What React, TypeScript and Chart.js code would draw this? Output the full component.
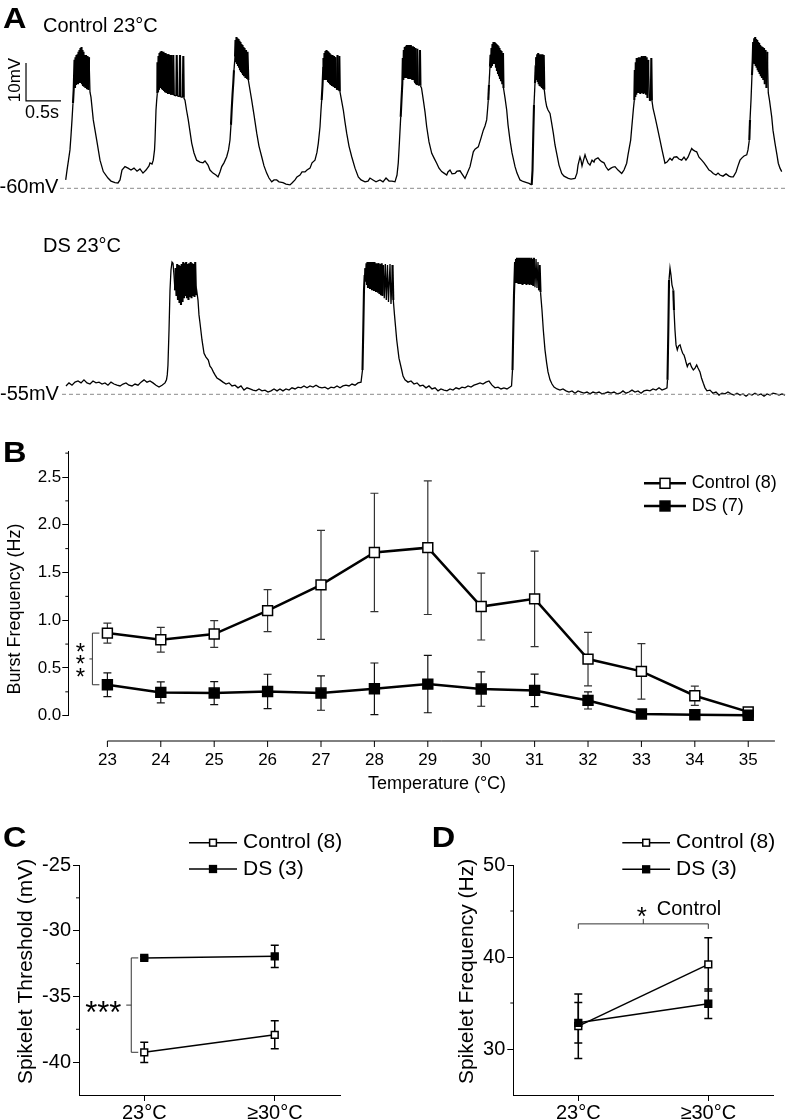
import React, { useEffect, useRef } from "react";
import { Chart, registerables } from "chart.js";

Chart.register(...registerables);

const FONT = '"Liberation Sans", Arial, Helvetica, sans-serif';
Chart.defaults.font.family = FONT;
Chart.defaults.color = "#000";

// ---------------- Panel A: membrane potential traces (time s, voltage mV) ----------------
const controlRest = -60;
const dsRest = -55;
const controlBaselineSpan = [-0.071, 10.286];
const dsBaselineSpan = [-0.043, 10.286];
const scaleBarCorner = [-0.557, -37.0]; // [s, mV]
const scaleBarMv = 10;
const scaleBarS = 0.5;

const controlTrace = [
  [0.010,-57.8],[0.029,-55.2],[0.050,-52.6],[0.071,-49.9],[0.086,-46.0],[0.100,-42.0],[0.114,-37.6],[0.124,-34.1],
  [0.136,-26.2],[0.143,-33.6],[0.150,-25.5],[0.157,-32.8],[0.164,-24.9],[0.171,-32.6],[0.179,-24.7],[0.186,-32.6],[0.193,-24.1],[0.200,-32.3],[0.207,-23.6],[0.214,-32.3],[0.221,-23.1],[0.229,-32.0],[0.236,-22.8],[0.243,-32.6],[0.250,-23.6],[0.257,-33.1],[0.264,-24.1],[0.271,-33.3],[0.279,-24.9],[0.293,-33.6],[0.300,-24.9],[0.314,-33.9],[0.321,-25.2],[0.336,-34.1],[0.343,-25.5],
  [0.357,-34.7],[0.371,-36.0],[0.404,-42.0],[0.453,-47.3],[0.500,-52.6],[0.547,-55.6],[0.614,-57.3],[0.657,-58.1],[0.714,-58.5],[0.757,-58.6],[0.786,-57.8],[0.814,-55.2],[0.857,-54.3],[0.900,-54.7],[0.943,-55.2],[0.986,-54.7],[1.029,-55.5],[1.071,-54.9],[1.114,-56.0],[1.157,-55.2],[1.200,-54.1],[1.214,-53.3],[1.243,-53.6],[1.261,-52.6],[1.279,-49.9],[1.286,-47.3],[1.300,-39.4],[1.310,-36.8],[1.319,-35.0],
  [1.321,-26.8],[1.329,-34.7],[1.336,-25.2],[1.343,-34.1],[1.350,-24.4],[1.357,-33.6],[1.364,-24.1],[1.371,-33.6],[1.379,-23.9],[1.386,-33.9],[1.393,-24.1],[1.400,-34.1],[1.407,-24.1],[1.414,-34.4],[1.421,-24.4],[1.429,-34.7],[1.436,-24.4],[1.450,-34.9],[1.457,-24.7],[1.471,-35.2],[1.479,-24.7],[1.493,-35.2],[1.500,-24.9],[1.514,-35.4],[1.521,-24.9],[1.536,-35.4],[1.547,-24.9],[1.555,-35.5],[1.590,-35.7],[1.596,-24.9],[1.603,-35.7],[1.636,-35.9],[1.643,-24.9],[1.650,-36.0],[1.683,-36.0],[1.690,-25.2],[1.697,-36.2],
  [1.714,-36.8],[1.736,-39.4],[1.761,-42.0],[1.810,-48.1],[1.843,-50.7],[1.881,-52.6],[1.929,-53.1],[1.971,-53.3],[2.000,-52.8],[2.043,-53.9],[2.071,-55.2],[2.114,-56.0],[2.157,-56.5],[2.186,-57.0],[2.214,-55.7],[2.239,-54.3],[2.271,-53.3],[2.310,-51.7],[2.336,-49.9],[2.357,-47.3],[2.371,-43.3],[2.381,-39.4],[2.393,-35.4],[2.404,-32.3],[2.414,-28.9],[2.429,-25.4],
  [2.436,-21.0],[2.443,-26.8],[2.450,-20.2],[2.457,-27.3],[2.464,-20.5],[2.471,-27.8],[2.479,-20.7],[2.486,-28.3],[2.493,-21.2],[2.500,-28.9],[2.507,-21.5],[2.514,-29.4],[2.521,-22.0],[2.529,-29.7],[2.536,-22.3],[2.543,-30.2],[2.550,-22.8],[2.557,-30.5],[2.564,-23.1],[2.579,-31.0],[2.586,-23.6],[2.600,-31.2],[2.607,-24.1],[2.619,-31.5],
  [2.667,-36.8],[2.700,-40.7],[2.739,-45.5],[2.771,-48.9],[2.810,-51.7],[2.843,-54.1],[2.881,-56.0],[2.914,-57.3],[2.953,-58.3],[2.986,-57.8],[3.024,-57.8],[3.057,-58.3],[3.114,-58.5],[3.157,-58.9],[3.214,-59.1],[3.243,-58.6],[3.286,-57.8],[3.314,-57.0],[3.357,-56.5],[3.386,-55.7],[3.429,-55.7],[3.457,-55.2],[3.500,-54.7],[3.529,-53.3],[3.571,-52.6],[3.600,-50.5],[3.619,-48.1],[3.643,-43.8],[3.657,-39.4],[3.667,-36.8],[3.679,-32.8],[3.690,-28.0],
  [3.693,-25.7],[3.700,-31.5],[3.707,-24.4],[3.714,-31.2],[3.721,-23.9],[3.729,-31.5],[3.736,-23.6],[3.743,-31.5],[3.750,-23.9],[3.757,-32.0],[3.764,-24.1],[3.771,-32.3],[3.779,-24.4],[3.786,-32.6],[3.793,-24.7],[3.800,-32.8],[3.807,-24.9],[3.814,-33.1],[3.821,-24.9],[3.836,-33.3],[3.843,-25.2],[3.857,-33.6],[3.864,-25.5],[3.879,-33.9],[3.886,-34.0],[3.893,-24.9],[3.900,-34.1],[3.912,-34.2],[3.919,-25.2],[3.926,-34.5],[3.929,-34.7],
  [3.950,-36.8],[3.976,-39.4],[4.000,-42.6],[4.024,-45.5],[4.057,-48.9],[4.096,-51.7],[4.143,-54.7],[4.190,-57.0],[4.229,-57.8],[4.286,-58.3],[4.329,-58.1],[4.357,-57.3],[4.400,-57.8],[4.443,-58.3],[4.500,-57.8],[4.543,-58.3],[4.586,-57.3],[4.629,-58.1],[4.671,-58.1],[4.714,-58.3],[4.743,-56.5],[4.761,-53.3],[4.779,-47.3],[4.796,-41.2],[4.807,-36.8],[4.819,-32.4],
  [4.826,-25.7],[4.833,-31.5],[4.840,-23.6],[4.847,-31.0],[4.854,-22.8],[4.861,-31.0],[4.869,-22.6],[4.876,-31.0],[4.883,-22.3],[4.890,-31.0],[4.897,-22.3],[4.904,-31.2],[4.911,-22.3],[4.919,-31.2],[4.926,-22.6],[4.933,-31.0],[4.940,-22.3],[4.947,-31.2],[4.954,-22.8],[4.961,-31.5],[4.969,-22.6],[4.979,-31.5],[4.986,-22.8],[4.997,-32.0],[5.003,-32.3],[5.007,-23.1],[5.014,-32.6],[5.028,-32.7],[5.033,-23.3],[5.040,-32.8],[5.064,-32.9],[5.071,-23.6],[5.078,-33.0],
  [5.093,-33.6],[5.119,-36.8],[5.143,-39.9],[5.167,-43.8],[5.200,-47.8],[5.239,-50.8],[5.271,-52.0],[5.310,-53.4],[5.343,-54.7],[5.381,-55.6],[5.414,-56.0],[5.453,-56.5],[5.471,-55.7],[5.500,-55.2],[5.529,-56.2],[5.571,-56.1],[5.600,-55.5],[5.643,-55.4],[5.671,-56.2],[5.714,-57.4],[5.743,-56.2],[5.786,-54.3],[5.814,-52.0],[5.833,-50.4],[5.857,-49.7],[5.904,-49.1],[5.943,-46.8],[5.976,-44.7],[6.000,-43.6],[6.024,-42.0],[6.036,-39.4],[6.047,-36.8],[6.057,-32.8],[6.071,-28.0],
  [6.079,-24.9],[6.086,-28.3],[6.093,-23.1],[6.100,-27.8],[6.107,-22.0],[6.114,-27.3],[6.121,-21.5],[6.129,-26.8],[6.136,-21.5],[6.143,-27.3],[6.150,-21.8],[6.157,-28.3],[6.164,-22.0],[6.171,-29.1],[6.179,-22.3],[6.186,-29.9],[6.193,-22.6],[6.200,-30.5],[6.207,-23.1],[6.214,-31.2],[6.221,-23.6],[6.229,-31.8],[6.236,-23.9],[6.247,-32.6],[6.257,-24.4],[6.264,-33.6],
  [6.286,-36.2],[6.310,-39.4],[6.329,-43.3],[6.357,-47.3],[6.386,-50.7],[6.429,-54.3],[6.457,-56.0],[6.500,-57.8],[6.543,-58.2],[6.596,-58.5],[6.629,-58.7],[6.667,-59.1],[6.679,-55.2],[6.690,-45.5],[6.700,-38.1],[6.714,-32.4],[6.724,-27.6],
  [6.731,-25.5],[6.739,-31.5],[6.746,-24.7],[6.753,-32.0],[6.760,-24.4],[6.767,-32.6],[6.774,-24.7],[6.781,-33.1],[6.789,-24.7],[6.797,-33.3],[6.804,-24.7],[6.814,-33.6],[6.821,-24.7],[6.831,-33.9],[6.839,-24.9],[6.847,-34.1],
  [6.864,-36.8],[6.881,-38.5],[6.900,-39.4],[6.929,-40.3],[6.950,-42.6],[6.976,-45.5],[7.000,-48.6],[7.024,-50.8],[7.057,-53.9],[7.096,-56.1],[7.129,-56.8],[7.190,-57.4],[7.229,-57.6],[7.286,-57.4],[7.314,-56.0],[7.329,-53.9],[7.357,-51.8],[7.371,-52.6],[7.386,-54.1],[7.400,-53.1],[7.429,-51.2],[7.443,-52.0],[7.471,-53.3],[7.500,-53.9],[7.529,-52.6],[7.557,-53.1],[7.571,-52.4],[7.614,-52.0],[7.643,-52.6],[7.667,-53.0],[7.700,-53.3],[7.729,-54.4],[7.761,-55.2],[7.800,-54.7],[7.829,-54.4],[7.857,-54.3],[7.900,-55.2],[7.953,-56.1],[7.986,-55.2],[8.024,-53.4],[8.043,-51.2],[8.081,-47.3],[8.096,-44.1],[8.110,-41.2],[8.121,-38.9],[8.133,-36.8],
  [8.140,-28.9],[8.147,-36.0],[8.154,-26.8],[8.161,-35.4],[8.167,-25.7],[8.176,-34.9],[8.183,-26.2],[8.190,-34.7],[8.197,-25.5],[8.204,-34.9],[8.211,-25.7],[8.219,-35.2],[8.226,-25.5],[8.233,-34.7],[8.240,-25.2],[8.247,-34.9],[8.254,-25.5],[8.264,-35.2],[8.271,-25.2],[8.283,-34.9],[8.290,-25.2],[8.300,-35.4],[8.309,-25.5],[8.321,-36.2],[8.333,-26.2],[8.350,-36.8],[8.369,-36.9],[8.376,-25.7],[8.384,-36.8],
  [8.400,-38.9],[8.429,-41.2],[8.457,-43.6],[8.500,-47.3],[8.529,-49.9],[8.571,-53.4],[8.600,-53.1],[8.643,-52.1],[8.671,-52.6],[8.700,-51.8],[8.739,-51.7],[8.771,-52.3],[8.810,-52.6],[8.843,-51.8],[8.871,-52.6],[8.900,-51.8],[8.929,-50.5],[8.953,-49.5],[8.971,-49.9],[9.000,-50.2],[9.024,-50.4],[9.057,-51.8],[9.096,-52.6],[9.129,-53.3],[9.167,-54.3],[9.200,-55.2],[9.229,-55.5],[9.261,-56.1],[9.300,-56.5],[9.329,-56.0],[9.357,-56.5],[9.400,-56.8],[9.443,-56.2],[9.486,-56.8],[9.514,-57.0],[9.547,-57.0],[9.586,-55.7],[9.614,-54.1],[9.643,-52.6],[9.671,-52.0],[9.700,-51.5],[9.739,-51.2],[9.757,-49.9],[9.776,-47.3],[9.786,-42.0],[9.800,-36.8],[9.814,-30.2],[9.824,-26.2],
  [9.831,-21.5],[9.839,-26.8],[9.846,-20.5],[9.853,-27.3],[9.860,-20.2],[9.867,-27.8],[9.874,-20.7],[9.881,-28.3],[9.889,-21.0],[9.896,-28.9],[9.903,-21.5],[9.910,-29.4],[9.917,-21.8],[9.924,-29.9],[9.931,-22.3],[9.940,-30.5],[9.949,-22.6],[9.957,-31.0],[9.966,-22.8],[9.976,-31.5],[9.986,-23.1],[9.997,-32.6],[10.007,-23.6],[10.021,-33.6],[10.033,-24.1],[10.047,-34.9],
  [10.064,-36.8],[10.096,-41.2],[10.114,-44.7],[10.143,-48.2],[10.171,-51.2],[10.190,-53.4],[10.214,-54.7],[10.239,-55.6],
];

const dsTrace = [
  [0.014,-52.8],[0.057,-52.0],[0.100,-52.6],[0.143,-51.8],[0.186,-51.5],[0.229,-52.0],[0.271,-51.2],[0.314,-52.0],[0.357,-52.3],[0.400,-51.5],[0.443,-52.0],[0.486,-51.8],[0.529,-52.3],[0.571,-52.0],[0.614,-52.6],[0.657,-51.8],[0.700,-52.3],[0.743,-52.6],[0.786,-52.8],[0.829,-52.3],[0.871,-52.0],[0.914,-52.6],[0.957,-52.8],[1.000,-52.3],[1.043,-52.6],[1.086,-51.8],[1.129,-51.2],[1.171,-51.8],[1.214,-51.5],[1.257,-52.0],[1.300,-52.6],[1.343,-53.1],[1.386,-52.6],[1.429,-52.0],[1.450,-51.2],[1.461,-49.9],[1.471,-47.3],[1.486,-38.1],[1.500,-27.6],
  [1.514,-22.3],[1.529,-20.2],[1.543,-20.5],[1.557,-23.6],[1.571,-27.6],[1.581,-21.8],[1.593,-29.1],[1.603,-20.7],[1.614,-30.2],[1.624,-21.0],[1.636,-31.0],[1.646,-21.2],[1.657,-31.5],[1.667,-20.7],[1.679,-30.7],[1.689,-20.2],[1.700,-29.7],[1.710,-20.5],[1.721,-29.1],[1.731,-20.2],[1.743,-29.7],[1.753,-20.7],[1.764,-30.2],[1.774,-20.5],[1.786,-29.4],[1.796,-20.2],[1.807,-29.7],[1.817,-20.5],[1.829,-29.1],[1.839,-20.7],[1.850,-29.4],[1.860,-20.2],[1.871,-28.9],[1.881,-27.6],
  [1.900,-30.2],[1.914,-34.1],[1.929,-36.3],[1.957,-40.7],[1.986,-44.2],[2.014,-45.2],[2.047,-46.0],[2.071,-47.6],[2.093,-48.1],[2.119,-49.1],[2.143,-49.9],[2.171,-50.7],[2.214,-51.2],
  [2.257,-51.8],[2.300,-52.3],[2.343,-52.0],[2.386,-52.8],[2.429,-52.6],[2.471,-53.3],[2.514,-52.8],[2.557,-53.9],[2.600,-53.3],[2.643,-53.6],[2.686,-53.9],[2.729,-54.1],[2.771,-53.6],[2.814,-54.1],[2.857,-53.9],[2.900,-54.4],[2.943,-54.1],[2.986,-53.6],[3.029,-54.1],[3.071,-53.6],[3.114,-54.1],[3.157,-53.6],[3.200,-53.9],[3.243,-53.3],[3.286,-53.6],[3.329,-53.1],[3.371,-53.3],[3.414,-52.8],[3.457,-53.3],[3.500,-52.8],[3.543,-53.1],[3.586,-52.6],[3.629,-53.1],[3.671,-53.3],[3.714,-53.1],[3.757,-53.6],[3.800,-53.1],[3.843,-53.3],[3.886,-52.8],[3.929,-53.3],[3.971,-52.8],[4.014,-52.6],[4.057,-52.8],[4.100,-52.3],[4.143,-52.6],[4.186,-52.0],[4.229,-51.8],[4.250,-48.6],[4.261,-38.1],[4.271,-27.6],[4.281,-23.6],
  [4.290,-21.8],[4.300,-25.4],[4.307,-20.5],[4.314,-26.2],[4.321,-20.2],[4.329,-27.0],[4.336,-20.2],[4.343,-26.8],[4.350,-20.5],[4.357,-27.3],[4.364,-20.2],[4.371,-27.0],[4.379,-20.5],[4.386,-27.6],[4.393,-20.2],[4.400,-27.3],[4.407,-20.5],[4.414,-27.8],[4.421,-20.2],[4.429,-27.6],[4.436,-20.7],[4.443,-28.1],[4.450,-20.5],[4.457,-27.8],[4.464,-20.7],[4.471,-28.3],[4.479,-20.5],[4.493,-28.6],[4.503,-20.7],[4.514,-28.9],[4.524,-20.5],[4.536,-29.1],[4.547,-21.0],[4.561,-29.7],[4.576,-20.7],[4.590,-30.2],[4.607,-21.0],[4.621,-30.7],[4.643,-20.7],[4.657,-31.2],[4.679,-21.0],[4.690,-30.2],
  [4.707,-34.1],[4.739,-40.7],[4.771,-45.5],[4.810,-48.6],[4.829,-50.2],[4.857,-51.2],[4.900,-51.8],[4.943,-51.5],[4.986,-52.3],[5.029,-52.0],[5.071,-52.8],[5.114,-52.6],[5.157,-53.3],[5.200,-52.8],[5.243,-53.6],[5.286,-53.3],[5.329,-54.1],[5.371,-53.6],[5.414,-53.9],[5.457,-54.1],[5.500,-53.6],[5.543,-53.9],[5.586,-53.3],[5.629,-53.6],[5.671,-53.1],[5.714,-53.3],[5.757,-52.8],[5.800,-53.1],[5.843,-52.6],[5.886,-52.3],[5.929,-52.0],[5.971,-52.3],[6.014,-51.8],[6.057,-51.5],[6.100,-52.6],[6.143,-53.3],[6.186,-53.1],[6.229,-53.6],[6.271,-53.3],[6.314,-53.6],[6.357,-53.1],[6.379,-52.8],[6.393,-48.6],[6.404,-38.1],[6.414,-28.9],[6.421,-24.9],
  [6.429,-20.2],[6.436,-25.4],[6.443,-19.4],[6.450,-25.7],[6.457,-19.1],[6.464,-25.4],[6.471,-19.4],[6.479,-26.0],[6.486,-19.1],[6.493,-25.7],[6.500,-19.4],[6.507,-26.0],[6.514,-19.1],[6.521,-25.7],[6.529,-19.4],[6.536,-26.2],[6.543,-19.1],[6.550,-26.0],[6.557,-19.4],[6.564,-25.7],[6.571,-19.1],[6.579,-26.0],[6.586,-19.4],[6.593,-26.2],[6.600,-19.1],[6.607,-26.0],[6.614,-19.4],[6.621,-25.7],[6.629,-19.1],[6.636,-26.2],[6.643,-19.4],[6.653,-26.0],[6.661,-19.1],[6.671,-26.2],[6.681,-19.4],[6.690,-26.5],[6.700,-19.1],[6.714,-26.8],[6.729,-19.4],[6.743,-27.0],[6.757,-20.2],[6.771,-27.6],[6.781,-21.0],[6.793,-28.1],
  [6.814,-32.8],[6.833,-38.1],[6.857,-43.3],[6.881,-46.8],[6.900,-49.1],[6.929,-51.2],[6.957,-52.3],[6.986,-53.1],[7.029,-53.6],[7.071,-53.9],[7.114,-53.6],[7.157,-54.1],[7.200,-54.4],[7.243,-54.1],[7.286,-54.7],[7.329,-54.1],[7.371,-54.4],[7.414,-54.7],[7.457,-54.4],[7.500,-54.9],[7.543,-54.4],[7.586,-54.7],[7.629,-54.4],[7.671,-54.9],[7.714,-54.7],[7.757,-54.4],[7.800,-54.7],[7.843,-54.4],[7.886,-54.9],[7.929,-54.7],[7.971,-54.1],[8.014,-54.7],[8.057,-54.4],[8.100,-53.9],[8.143,-54.4],[8.186,-54.1],[8.229,-54.7],[8.271,-54.1],[8.314,-53.9],[8.357,-54.1],[8.400,-53.6],[8.443,-53.9],[8.486,-53.3],[8.529,-53.9],[8.571,-53.6],[8.600,-53.3],
  [8.607,-51.2],[8.619,-38.1],[8.629,-24.9],[8.643,-21.8],[8.657,-23.6],[8.671,-26.2],[8.690,-27.6],[8.700,-32.8],[8.714,-38.1],[8.729,-42.0],[8.747,-43.3],[8.764,-42.3],[8.786,-42.0],[8.807,-43.3],[8.824,-44.2],[8.843,-44.7],[8.857,-45.5],[8.871,-46.5],[8.890,-47.7],[8.907,-47.0],[8.929,-46.8],[8.950,-47.8],[8.976,-48.6],[9.000,-48.1],[9.024,-47.3],[9.043,-48.1],[9.071,-49.1],[9.093,-50.7],[9.119,-52.1],[9.143,-53.3],[9.171,-54.1],
  [9.214,-53.9],[9.257,-54.7],[9.300,-54.4],[9.343,-55.2],[9.386,-54.7],[9.429,-54.9],[9.471,-54.4],[9.514,-54.9],[9.557,-55.2],[9.600,-54.7],[9.643,-55.2],[9.686,-54.9],[9.729,-55.5],[9.771,-54.9],[9.814,-55.2],[9.857,-54.7],[9.900,-55.2],[9.943,-54.9],[9.986,-55.5],[10.029,-54.9],[10.071,-55.2],[10.114,-54.7],[10.157,-54.9],[10.200,-55.2],[10.243,-54.9],[10.286,-55.2],
];

// ---------------- Panel B: burst frequency vs temperature ----------------
const temps = [23, 24, 25, 26, 27, 28, 29, 30, 31, 32, 33, 34, 35];
const controlFreq = [0.865, 0.795, 0.855, 1.10, 1.37, 1.71, 1.76, 1.143, 1.224, 0.593, 0.464, 0.209, 0.04];
const controlFreqErr = [0.105, 0.13, 0.14, 0.22, 0.57, 0.62, 0.70, 0.35, 0.50, 0.28, 0.29, 0.10, 0.02];
const dsFreq = [0.324, 0.244, 0.237, 0.254, 0.237, 0.282, 0.331, 0.279, 0.265, 0.16, 0.018, 0.01, 0.005];
const dsFreqErr = [0.125, 0.11, 0.12, 0.18, 0.18, 0.27, 0.30, 0.18, 0.17, 0.09, 0.01, 0.008, 0.004];
const yTicksB = [0, 0.5, 1.0, 1.5, 2.0, 2.5];
const yMinorB = [0.25, 0.75, 1.25, 1.75, 2.25, 2.75];

// ---------------- Panel C: spikelet threshold ----------------
const condCats = ["23°C", "≥30°C"];
const thrControl = [-39.25, -37.92];
const thrControlErr = [0.77, 1.07];
const thrDS = [-32.07, -31.95];
const thrDSErr = [0.12, 0.85];
const yTicksC = [-40, -35, -30, -25];
const yMinorC = [-27.5, -32.5, -37.5];

// ---------------- Panel D: spikelet frequency ----------------
const sfControl = [32.48, 39.2];
const sfControlErr = [3.5, 2.9];
const sfDS = [32.85, 34.92];
const sfDSErr = [2.2, 1.6];
const yTicksD = [30, 40, 50];
const yMinorD = [35, 45];
const sigBracketD = 43.6;

// ---------------- helpers ----------------
function txt(ctx: any, s: string, x: number, y: number, size: number, o: any = {}) {
  ctx.save();
  ctx.font = `${o.bold ? "bold " : ""}${size}px ${FONT}`;
  ctx.fillStyle = "#000";
  ctx.textAlign = o.align || "left";
  ctx.textBaseline = o.baseline || "alphabetic";
  ctx.translate(x, y);
  if (o.rot) ctx.rotate(o.rot);
  if (o.sx) ctx.scale(o.sx, 1);
  ctx.fillText(s, 0, 0);
  ctx.restore();
}

function legendRow(ctx: any, x1: number, x2: number, y: number, filled: boolean, side: number, lw: number, label: string, tx: number, size: number) {
  ctx.save();
  ctx.strokeStyle = "#000";
  ctx.lineWidth = lw;
  ctx.beginPath();
  ctx.moveTo(x1, y);
  ctx.lineTo(x2, y);
  ctx.stroke();
  const cx = (x1 + x2) / 2;
  ctx.fillStyle = filled ? "#000" : "#fff";
  ctx.lineWidth = 1.5;
  ctx.fillRect(cx - side / 2, y - side / 2, side, side);
  ctx.strokeRect(cx - side / 2, y - side / 2, side, side);
  ctx.restore();
  txt(ctx, label, tx, y, size, { baseline: "middle" });
}

const errorBarPlugin = {
  id: "errorBars",
  beforeDatasetsDraw(chart: any) {
    const ctx = chart.ctx;
    chart.data.datasets.forEach((ds: any, di: number) => {
      if (!ds.errorBars) return;
      const meta = chart.getDatasetMeta(di);
      const yScale = chart.scales[meta.yAxisID];
      ctx.save();
      ctx.strokeStyle = ds.errorColor || "#000";
      ctx.lineWidth = ds.errorWidth || 1;
      const cap = ds.errorCap || 4;
      meta.data.forEach((pt: any, i: number) => {
        const d = ds.data[i];
        const v = typeof d === "number" ? d : d.y;
        const e = ds.errorBars[i];
        const yt = yScale.getPixelForValue(v + e);
        const yb = yScale.getPixelForValue(v - e);
        const x = pt.x;
        ctx.beginPath();
        ctx.moveTo(x, yt);
        ctx.lineTo(x, yb);
        ctx.moveTo(x - cap, yt);
        ctx.lineTo(x + cap, yt);
        ctx.moveTo(x - cap, yb);
        ctx.lineTo(x + cap, yb);
        ctx.stroke();
      });
      ctx.restore();
    });
  },
};

const baseOptions = {
  responsive: false,
  animation: false,
  events: [],
  plugins: { legend: { display: false }, tooltip: { enabled: false } },
};

// spike segments (short in time, large in voltage) are drawn a little heavier, as the
// densely sampled recording fills them in solid black
function isSpikeSegment(c: any) {
  const dt = Math.abs(c.p1.parsed.x - c.p0.parsed.x);
  const dv = Math.abs(c.p1.parsed.y - c.p0.parsed.y);
  return dt < 0.013 && dv > 3;
}

function traceDataset(pairs: number[][]) {
  return {
    data: pairs.map(([t, v]) => ({ x: t, y: v })),
    showLine: true,
    borderColor: "#000",
    borderWidth: 1.3,
    borderDash: [100000, 0],
    borderJoinStyle: "miter",
    pointRadius: 0,
    tension: 0,
    segment: {
      borderWidth: (c: any) => (isSpikeSegment(c) ? 2.1 : 1.3),
    },
  };
}

function dashedLine(span: number[], v: number) {
  return {
    data: span.map((t) => ({ x: t, y: v })),
    showLine: true,
    borderColor: "#8a8a8a",
    borderWidth: 1,
    borderDash: [4, 3],
    pointRadius: 0,
  };
}

// ---------------- chart configs ----------------
function makeA1() {
  const [sbT, sbV] = scaleBarCorner;
  return {
    type: "scatter",
    data: {
      datasets: [
        dashedLine(controlBaselineSpan, controlRest),
        traceDataset(controlTrace),
        {
          data: [
            { x: sbT, y: sbV + scaleBarMv },
            { x: sbT, y: sbV },
            { x: sbT + scaleBarS, y: sbV },
          ],
          showLine: true,
          borderColor: "#000",
          borderWidth: 1.2,
          pointRadius: 0,
        },
      ],
    },
    options: {
      ...baseOptions,
      layout: { padding: { left: 23, right: 6, top: 28.7, bottom: 4.1 } },
      scales: {
        x: { type: "linear", display: false, min: -0.6, max: 10.3 },
        y: { type: "linear", display: false, min: -62, max: -18 },
      },
    },
    plugins: [
      {
        id: "decorA1",
        afterDraw(chart: any) {
          const ctx = chart.ctx;
          txt(ctx, "A", 3, 28.3, 29, { bold: true, sx: 1.12 });
          txt(ctx, "Control 23°C", 43, 31.7, 20);
          txt(ctx, "10mV", 20, 80, 17, { rot: -Math.PI / 2, align: "center" });
          txt(ctx, "0.5s", 25, 118, 18);
          txt(ctx, "-60mV", -0.5, 192.5, 20);
        },
      },
    ],
  };
}

function makeA2() {
  return {
    type: "scatter",
    data: {
      datasets: [dashedLine(dsBaselineSpan, dsRest), traceDataset(dsTrace)],
    },
    options: {
      ...baseOptions,
      layout: { padding: { left: 23, right: 6, top: 42.3, bottom: 13.1 } },
      scales: {
        x: { type: "linear", display: false, min: -0.6, max: 10.3 },
        y: { type: "linear", display: false, min: -57, max: -15 },
      },
    },
    plugins: [
      {
        id: "decorA2",
        afterDraw(chart: any) {
          const ctx = chart.ctx;
          txt(ctx, "DS 23°C", 43, 51.7, 20);
          txt(ctx, "-55mV", 0, 200, 20);
        },
      },
    ],
  };
}

function makeB() {
  return {
    type: "scatter",
    data: {
      datasets: [
        {
          label: "DS (7)",
          data: temps.map((t, i) => ({ x: t, y: dsFreq[i] })),
          showLine: true,
          borderColor: "#000",
          borderWidth: 2.5,
          pointStyle: "rect",
          pointRadius: 7,
          pointBackgroundColor: "#000",
          pointBorderColor: "#000",
          pointBorderWidth: 1.5,
          clip: false,
          order: 0,
          errorBars: dsFreqErr,
          errorColor: "#111",
          errorWidth: 1.2,
          errorCap: 4,
        },
        {
          label: "Control (8)",
          data: temps.map((t, i) => ({ x: t, y: controlFreq[i] })),
          showLine: true,
          borderColor: "#000",
          borderWidth: 2.5,
          pointStyle: "rect",
          pointRadius: 7,
          pointBackgroundColor: "#fff",
          pointBorderColor: "#000",
          pointBorderWidth: 1.5,
          clip: false,
          order: 1,
          errorBars: controlFreqErr,
          errorColor: "#333",
          errorWidth: 1.2,
          errorCap: 4,
        },
      ],
    },
    options: {
      ...baseOptions,
      layout: { padding: { left: 0, right: 0, top: 36.7, bottom: 0 } },
      scales: {
        x: {
          type: "linear",
          min: 22.268,
          max: 35.5,
          afterBuildTicks: (s: any) => {
            s.ticks = temps.map((v) => ({ value: v }));
          },
          ticks: { font: { size: 17 }, color: "#000", padding: 34, maxRotation: 0, autoSkip: false, callback: (v: any) => String(v) },
          grid: { display: false, drawTicks: false },
          border: { display: false },
          afterFit: (s: any) => {
            s.height = 84.3;
          },
        },
        y: {
          type: "linear",
          min: 0,
          max: 2.765,
          afterBuildTicks: (s: any) => {
            s.ticks = yTicksB.map((v) => ({ value: v }));
          },
          ticks: { font: { size: 17 }, color: "#000", padding: 1, callback: (v: any) => Number(v).toFixed(1) },
          grid: { display: true, drawOnChartArea: false, drawTicks: true, tickLength: 6, color: "#000" },
          border: { display: true, color: "#000", width: 1 },
          afterFit: (s: any) => {
            s.width = 68.3;
          },
        },
      },
    },
    plugins: [
      errorBarPlugin,
      {
        id: "decorB",
        afterDraw(chart: any) {
          const { ctx, chartArea: ca, scales } = chart;
          const x = scales.x;
          const y = scales.y;
          ctx.save();
          ctx.strokeStyle = "#000";
          ctx.lineWidth = 1;
          const axY = ca.bottom + 25.3;
          ctx.beginPath();
          ctx.moveTo(x.getPixelForValue(temps[0]), axY);
          ctx.lineTo(ca.right, axY);
          temps.forEach((t) => {
            const px = x.getPixelForValue(t);
            ctx.moveTo(px, axY);
            ctx.lineTo(px, axY + 6);
          });
          yMinorB.forEach((v) => {
            const py = y.getPixelForValue(v);
            ctx.moveTo(ca.left - 3, py);
            ctx.lineTo(ca.left, py);
          });
          ctx.stroke();
          // significance bracket
          const bx = x.getPixelForValue(temps[0]) - 15;
          const y1 = y.getPixelForValue(controlFreq[0]);
          const y2 = y.getPixelForValue(dsFreq[0]);
          const ym = (y1 + y2) / 2;
          ctx.lineWidth = 1;
          ctx.strokeStyle = "#333";
          ctx.beginPath();
          ctx.moveTo(bx + 7, y1);
          ctx.lineTo(bx, y1);
          ctx.lineTo(bx, y2);
          ctx.lineTo(bx + 7, y2);
          ctx.moveTo(bx, ym);
          ctx.lineTo(bx - 3, ym);
          ctx.stroke();
          ctx.restore();
          [-12.5, 0, 12.5].forEach((d) => txt(ctx, "*", bx - 12, ym + d + 13.5, 24, { align: "center" }));
          // panel letter, titles, legend
          txt(ctx, "B", 3, 47, 29, { bold: true, sx: 1.12 });
          txt(ctx, "Temperature (°C)", 437, 374.3, 18, { align: "center" });
          txt(ctx, "Burst Frequency (Hz)", 20, 194, 18, { rot: -Math.PI / 2, align: "center" });
          const side = 7 * Math.SQRT2;
          legendRow(ctx, 644, 686, 68.3, false, side, 2.5, "Control (8)", 691.7, 18);
          legendRow(ctx, 644, 686, 91, true, side, 2.5, "DS (7)", 691.7, 18);
        },
      },
    ],
  };
}

function smallChart(opts: any) {
  const { control, controlErr, ds, dsErr, yMin, yMax, yTicks, yMinor, yWidth, padRight, decor } = opts;
  return {
    type: "line",
    data: {
      labels: condCats,
      datasets: [
        {
          label: "DS (3)",
          data: ds,
          borderColor: "#000",
          borderWidth: 1.5,
          pointStyle: "rect",
          pointRadius: 4.8,
          pointBackgroundColor: "#000",
          pointBorderColor: "#000",
          pointBorderWidth: 1.5,
          tension: 0,
          clip: false,
          order: 0,
          errorBars: dsErr,
          errorColor: "#000",
          errorWidth: 1.5,
          errorCap: 4,
        },
        {
          label: "Control (8)",
          data: control,
          borderColor: "#000",
          borderWidth: 1.5,
          pointStyle: "rect",
          pointRadius: 4.8,
          pointBackgroundColor: "#fff",
          pointBorderColor: "#000",
          pointBorderWidth: 1.5,
          tension: 0,
          clip: false,
          order: 1,
          errorBars: controlErr,
          errorColor: "#000",
          errorWidth: 1.5,
          errorCap: 4,
        },
      ],
    },
    options: {
      ...baseOptions,
      layout: { padding: { left: 0, right: padRight, top: 65, bottom: 0 } },
      scales: {
        x: {
          type: "category",
          offset: true,
          ticks: { font: { size: 20 }, color: "#000", padding: 0, maxRotation: 0, autoSkip: false },
          grid: { display: true, offset: false, drawOnChartArea: false, drawTicks: true, tickLength: 6, color: "#000" },
          border: { display: true, color: "#000", width: 1 },
          afterFit: (s: any) => {
            s.height = 25;
          },
        },
        y: {
          type: "linear",
          min: yMin,
          max: yMax,
          afterBuildTicks: (s: any) => {
            s.ticks = yTicks.map((v: number) => ({ value: v }));
          },
          ticks: { font: { size: 20 }, color: "#000", padding: 2, callback: (v: any) => String(v) },
          grid: { display: true, drawOnChartArea: false, drawTicks: true, tickLength: 6, color: "#000" },
          border: { display: true, color: "#000", width: 1 },
          afterFit: (s: any) => {
            s.width = yWidth;
          },
        },
      },
    },
    plugins: [
      errorBarPlugin,
      {
        id: "decorSmall",
        afterDraw(chart: any) {
          const { ctx, chartArea: ca, scales } = chart;
          ctx.save();
          ctx.strokeStyle = "#000";
          ctx.lineWidth = 1;
          ctx.beginPath();
          yMinor.forEach((v: number) => {
            const py = scales.y.getPixelForValue(v);
            ctx.moveTo(ca.left - 3, py);
            ctx.lineTo(ca.left, py);
          });
          ctx.stroke();
          ctx.restore();
          decor(chart);
        },
      },
    ],
  };
}

function makeC() {
  return smallChart({
    control: thrControl,
    controlErr: thrControlErr,
    ds: thrDS,
    dsErr: thrDSErr,
    yMin: -42.5,
    yMax: -25,
    yTicks: yTicksC,
    yMinor: yMinorC,
    yWidth: 79,
    padRight: 56,
    decor: (chart: any) => {
      const { ctx, scales } = chart;
      const x0 = scales.x.getPixelForValue(0);
      const y1 = scales.y.getPixelForValue(thrDS[0]);
      const y2 = scales.y.getPixelForValue(thrControl[0]);
      const bx = x0 - 13;
      const ym = (y1 + y2) / 2;
      ctx.save();
      ctx.strokeStyle = "#333";
      ctx.lineWidth = 1;
      ctx.beginPath();
      ctx.moveTo(x0 - 6, y1);
      ctx.lineTo(bx, y1);
      ctx.lineTo(bx, y2);
      ctx.lineTo(x0 - 6, y2);
      ctx.moveTo(bx, ym);
      ctx.lineTo(bx - 5, ym);
      ctx.stroke();
      ctx.restore();
      txt(ctx, "***", bx - 28, ym + 17.8, 31, { align: "center" });
      txt(ctx, "C", 3, 46.7, 29, { bold: true, sx: 1.12 });
      txt(ctx, "Spikelet Threshold (mV)", 31.7, 171.5, 21, { rot: -Math.PI / 2, align: "center" });
      const side = 4.8 * Math.SQRT2;
      legendRow(ctx, 189, 237, 42.7, false, side, 1.5, "Control (8)", 243, 21);
      legendRow(ctx, 189, 237, 69, true, side, 1.5, "DS (3)", 243, 21);
    },
  });
}

function makeD() {
  return smallChart({
    control: sfControl,
    controlErr: sfControlErr,
    ds: sfDS,
    dsErr: sfDSErr,
    yMin: 25,
    yMax: 50,
    yTicks: yTicksD,
    yMinor: yMinorD,
    yWidth: 117.3,
    padRight: 18.7,
    decor: (chart: any) => {
      const { ctx, scales } = chart;
      const x0 = scales.x.getPixelForValue(0);
      const x1 = scales.x.getPixelForValue(1);
      const by = scales.y.getPixelForValue(sigBracketD);
      const xm = (x0 + x1) / 2;
      ctx.save();
      ctx.strokeStyle = "#333";
      ctx.lineWidth = 1;
      ctx.beginPath();
      ctx.moveTo(x0, by + 5);
      ctx.lineTo(x0, by);
      ctx.lineTo(x1, by);
      ctx.lineTo(x1, by + 5);
      ctx.moveTo(xm, by);
      ctx.lineTo(xm, by - 5);
      ctx.stroke();
      ctx.restore();
      txt(ctx, "*", xm - 1.5, by + 0.7, 26, { align: "center" });
      txt(ctx, "Control", xm + 13.5, by - 9, 20);
      txt(ctx, "D", 35.7, 46.7, 29, { bold: true, sx: 1.12 });
      txt(ctx, "Spikelet Frequency (Hz)", 77.3, 171.5, 21, { rot: -Math.PI / 2, align: "center" });
      const side = 4.8 * Math.SQRT2;
      legendRow(ctx, 226.3, 274, 42.7, false, side, 1.5, "Control (8)", 280, 21);
      legendRow(ctx, 226.3, 274, 69.3, true, side, 1.5, "DS (3)", 280, 21);
    },
  });
}

function ChartBox({ left, top, width, height, make }: any) {
  const ref = useRef<HTMLCanvasElement>(null);
  useEffect(() => {
    const chart = new Chart(ref.current as any, make() as any);
    return () => chart.destroy();
  }, []);
  return (
    <canvas
      ref={ref}
      width={width}
      height={height}
      style={{ position: "absolute", left, top, width, height, display: "block" }}
    />
  );
}

export default function App() {
  return (
    <div
      style={{
        position: "absolute",
        left: 0,
        top: 0,
        width: 792,
        height: 1120,
        background: "#fff",
        overflow: "hidden",
        fontFamily: FONT,
      }}
    >
      <ChartBox left={0} top={0} width={792} height={200} make={makeA1} />
      <ChartBox left={0} top={200} width={792} height={215} make={makeA2} />
      <ChartBox left={0} top={415} width={792} height={385} make={makeB} />
      <ChartBox left={0} top={800} width={396} height={320} make={makeC} />
      <ChartBox left={396} top={800} width={396} height={320} make={makeD} />
    </div>
  );
}
